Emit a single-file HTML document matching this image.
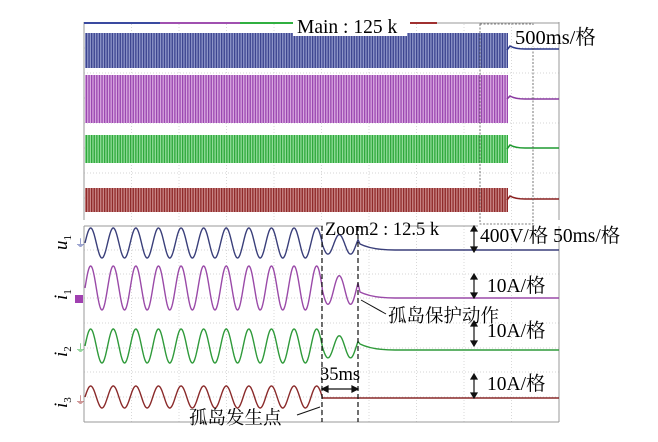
<!DOCTYPE html>
<html><head><meta charset="utf-8"><style>
html,body{margin:0;padding:0;background:#fff;}
svg{display:block;font-family:"Liberation Serif","Noto Serif CJK SC",serif;}
</style></head><body>
<svg id="s" width="658" height="442" viewBox="0 0 658 442" xmlns="http://www.w3.org/2000/svg">
<defs>
<pattern id="pb" width="2.6" height="10" patternUnits="userSpaceOnUse"><rect width="2.6" height="10" fill="#8d95c8"/><rect width="1.3" height="10" fill="#3d4590"/></pattern>
<pattern id="pp" width="2.6" height="10" patternUnits="userSpaceOnUse"><rect width="2.6" height="10" fill="#d9a6e0"/><rect width="1.3" height="10" fill="#9a48b0"/></pattern>
<pattern id="pg" width="2.6" height="10" patternUnits="userSpaceOnUse"><rect width="2.6" height="10" fill="#8fdc98"/><rect width="1.3" height="10" fill="#2fa83c"/></pattern>
<pattern id="pr" width="2.6" height="10" patternUnits="userSpaceOnUse"><rect width="2.6" height="10" fill="#c98585"/><rect width="1.3" height="10" fill="#8f2a2a"/></pattern>
</defs>
<g id="grid" stroke="#c8c8c8" stroke-width="0.7" stroke-dasharray="1,2"></g>
<line x1="84" y1="22" x2="84" y2="220" stroke="#999" stroke-width="1"/>
<line x1="559" y1="22" x2="559" y2="220" stroke="#999" stroke-width="1"/>
<line x1="84" y1="23" x2="160" y2="23" stroke="#3a4aa0" stroke-width="2"/>
<line x1="160" y1="23" x2="240" y2="23" stroke="#a050b0" stroke-width="2"/>
<line x1="240" y1="23" x2="295" y2="23" stroke="#30b040" stroke-width="2"/>
<line x1="410" y1="23" x2="437" y2="23" stroke="#a03030" stroke-width="2"/>
<line x1="437" y1="23" x2="559" y2="23" stroke="#999" stroke-width="1"/>
<rect x="85" y="33" width="423" height="35" fill="url(#pb)"/>
<rect x="85" y="75" width="423" height="48" fill="url(#pp)"/>
<rect x="85" y="135" width="423" height="28" fill="url(#pg)"/>
<rect x="85" y="188" width="423" height="24" fill="url(#pr)"/>
<g id="topg"></g>
<rect x="480" y="24" width="53" height="200" fill="none" stroke="#555" stroke-width="0.8" stroke-dasharray="2,1.5"/>
<rect x="293" y="14" width="114" height="22" fill="#fff"/>
<text x="297" y="33" font-size="19.5">Main : 125 k</text>
<rect x="512" y="25" width="46" height="21" fill="#fff"/>
<text x="515" y="44" font-size="20.5">500ms/格</text>
<line x1="84" y1="226" x2="323" y2="226" stroke="#999"/>
<line x1="405" y1="226" x2="478" y2="226" stroke="#999"/>
<line x1="84" y1="226" x2="84" y2="422" stroke="#999"/>
<line x1="559" y1="226" x2="559" y2="422" stroke="#999"/>
<line x1="84" y1="422" x2="559" y2="422" stroke="#999"/>
<g id="botg"></g>
<line x1="322" y1="226" x2="322" y2="422" stroke="#111" stroke-width="1.2" stroke-dasharray="5,3"/>
<line x1="358" y1="226" x2="358" y2="422" stroke="#111" stroke-width="1.2" stroke-dasharray="5,3"/>
<text x="325" y="235" font-size="18.5">Zoom2 : 12.5 k</text>
<text x="480" y="242" font-size="19.5">400V/格 50ms/格</text>
<text x="487" y="292" font-size="19.5">10A/格</text>
<text x="487" y="337" font-size="19.5">10A/格</text>
<text x="487" y="390" font-size="19.5">10A/格</text>
<g stroke="#111" stroke-width="1.2" fill="#111">
<line x1="474" y1="228" x2="474" y2="250"/><path d="M471,231 L474,226 L477,231Z M471,247 L474,252 L477,247Z"/>
<line x1="474" y1="276" x2="474" y2="296"/><path d="M471,279 L474,274 L477,279Z M471,293 L474,298 L477,293Z"/>
<line x1="474" y1="323" x2="474" y2="344"/><path d="M471,326 L474,321 L477,326Z M471,341 L474,346 L477,341Z"/>
<line x1="474" y1="376" x2="474" y2="396"/><path d="M471,379 L474,374 L477,379Z M471,393 L474,398 L477,393Z"/>
<line x1="324" y1="389" x2="356" y2="389"/><path d="M328,386 L322,389 L328,392Z M352,386 L358,389 L352,392Z"/>
<line x1="361" y1="300" x2="386" y2="314" stroke-width="1"/>
<line x1="297" y1="415" x2="320" y2="407" stroke-width="1"/>
</g>
<text x="320" y="380" font-size="18.5">35ms</text>
<text x="388" y="322" font-size="18.5">孤岛保护动作</text>
<text x="189" y="424" font-size="18.5">孤岛发生点</text>
<g font-style="italic" font-size="19">
<text transform="translate(67,250) rotate(-90)">u<tspan font-size="11" dy="4" font-style="normal">1</tspan></text>
<text transform="translate(67,300) rotate(-90)">i<tspan font-size="11" dy="4" font-style="normal">1</tspan></text>
<text transform="translate(67,357) rotate(-90)">i<tspan font-size="11" dy="4" font-style="normal">2</tspan></text>
<text transform="translate(67,408) rotate(-90)">i<tspan font-size="11" dy="4" font-style="normal">3</tspan></text>
</g>
<text x="75" y="247" font-size="11" fill="#3a4aa0">⏚</text>
<rect x="75" y="295" width="8" height="8" fill="#a040b0"/>
<text x="75" y="352" font-size="11" fill="#30b040">⏚</text>
<text x="75" y="404" font-size="11" fill="#a03030">⏚</text>
</svg>
<script>
(function(){
var NS="http://www.w3.org/2000/svg";
function el(p,t,a){var e=document.createElementNS(NS,t);for(var k in a)e.setAttribute(k,a[k]);p.appendChild(e);return e;}
var g=document.getElementById('grid');
for(var i=1;i<10;i++){var x=84+i*47.5;el(g,'line',{x1:x,y1:24,x2:x,y2:220});el(g,'line',{x1:x,y1:226,x2:x,y2:422});}
[48,73,98,123,148,173,198].forEach(function(y){el(g,'line',{x1:84,y1:y,x2:559,y2:y});});
[250,274,298,323,348,372,397].forEach(function(y){el(g,'line',{x1:84,y1:y,x2:559,y2:y});});
var tg=document.getElementById('topg');
var T=[["#2e3a8a",50,49],["#8a3aa0",99,99],["#1f9a30",149,148],["#8a2020",200,199]];
T.forEach(function(t){
 var d="M507,"+(t[1])+"L510,"+(t[2]-3)+"Q515,"+t[2]+" 525,"+t[2]+"L559,"+t[2];
 el(tg,'path',{d:d,fill:"none",stroke:t[0],"stroke-width":1.6});
});
var bg=document.getElementById('botg');
var B=[["#3a3f7a",243,15,250,1],["#9a4aa8",288,22,298,1],["#2f9a3a",346,17,350,1],["#8a2a2a",397,11,398,0]];
var per=22.6;
B.forEach(function(b){
 var d="";
 for(var x=85;x<=358;x+=0.5){
  var y;
  if(x<=322)y=b[1]-b[2]*Math.sin((x-85)/per*2*Math.PI);
  else if(b[4])y=b[1]-b[2]*0.65*Math.sin((x-85)/per*2*Math.PI)+(b[3]-b[1])*0.2;
  else y=b[3];
  d+=(d?"L":"M")+x+","+y.toFixed(1);
 }
 if(b[4]){d+="L360,"+(b[3]-6)+"Q372,"+b[3]+" 395,"+b[3]+"L559,"+b[3];}
 else d+="L559,"+b[3];
 el(bg,'path',{d:d,fill:"none",stroke:b[0],"stroke-width":1.4});
});
})();
</script>
</body></html>
